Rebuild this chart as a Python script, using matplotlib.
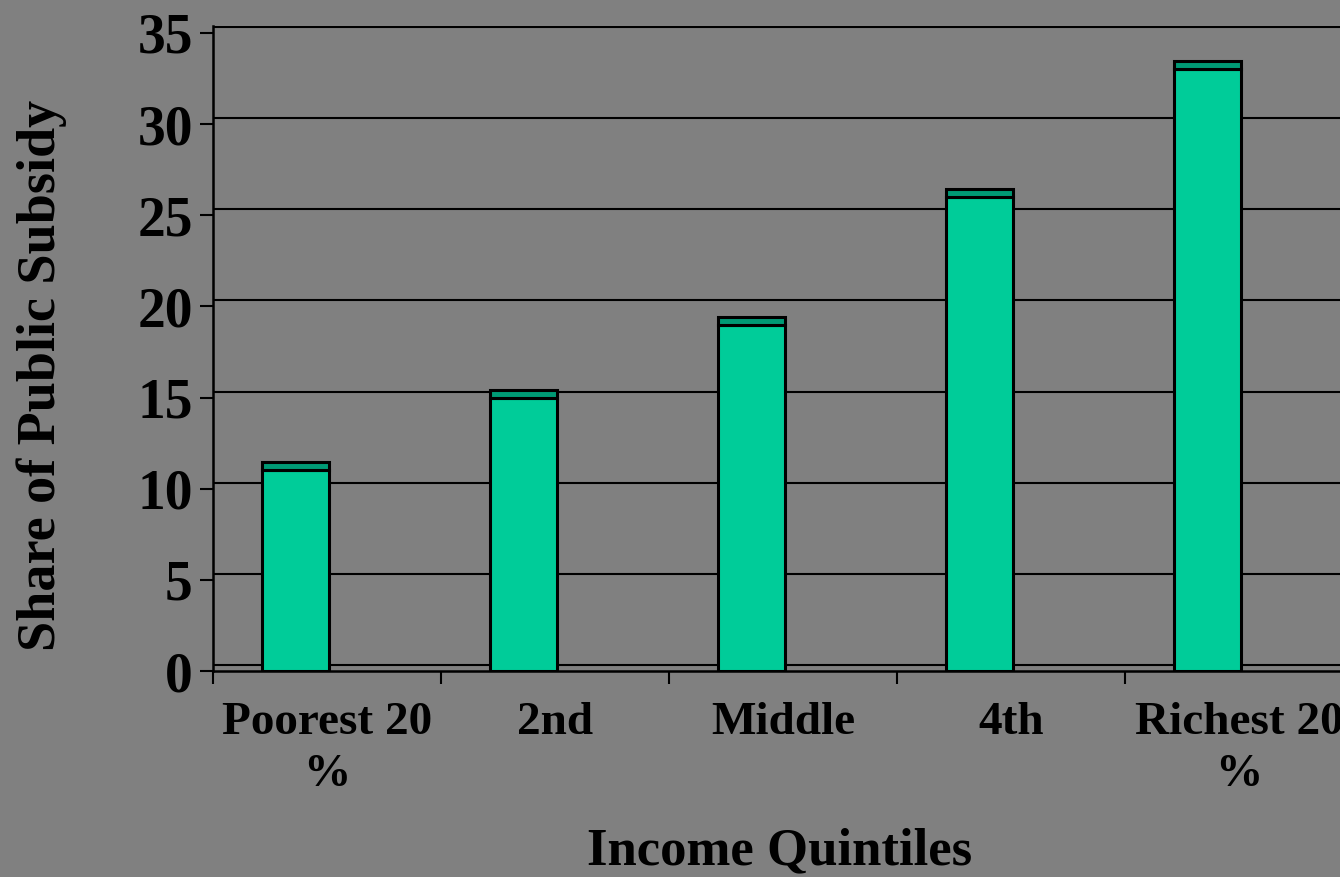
import matplotlib
matplotlib.use("Agg")
import matplotlib.pyplot as plt
from matplotlib.patches import Rectangle

categories = ["Poorest 20\n%", "2nd", "Middle", "4th", "Richest 20\n%"]
values = [11, 15, 19, 26, 33]
yticks = [0, 5, 10, 15, 20, 25, 30, 35]

BG = "#808080"
FRONT = "#00CC99"
CAP = "#009A75"
FONT = "Liberation Serif"

fig = plt.figure(figsize=(13.4, 8.77), dpi=100, facecolor=BG)
ax = fig.add_axes([213/1340, 206/877, (1353-213)/1340, (671-25.7)/877], facecolor=BG)

ax.set_xlim(0, 5)
ax.set_ylim(0, 35.4)

wall_off = 0.33
for v in yticks:
    ax.axhline(v + wall_off, color="black", lw=1.5, zorder=1)

bw = 0.29
boff = 0.362
cap_h = 0.44
for i, v in enumerate(values):
    ax.bar(i + boff, v, width=bw, color=FRONT, edgecolor="black", linewidth=2.2, zorder=3)
    ax.add_patch(Rectangle((i + boff - bw/2, v), bw, cap_h, facecolor=CAP,
                           edgecolor="black", linewidth=2.2, zorder=3))

for s in ["top", "right"]:
    ax.spines[s].set_visible(False)
ax.spines["left"].set_linewidth(1.8)
ax.spines["bottom"].set_linewidth(1.8)

ax.set_yticks(yticks)
ax.set_yticklabels([str(t) for t in yticks], fontfamily=FONT, fontweight="bold", fontsize=40)
ax.tick_params(axis="y", length=9.5, width=1.5, pad=5)

ax.set_xticks(range(6))
ax.set_xticklabels([])
ax.tick_params(axis="x", which="major", length=9, width=1.5)
ax.set_xticks([i + 0.5 for i in range(5)], minor=True)
ax.set_xticklabels(categories, minor=True, fontfamily=FONT, fontweight="bold", fontsize=34,
                   linespacing=1.32)
ax.tick_params(axis="x", which="minor", length=0, pad=22)

fig.text(780/1340, 1 - 851/877, "Income Quintiles", ha="center", va="center",
         fontfamily=FONT, fontweight="bold", fontsize=38)
fig.text(42/1340, 1 - 375/877, "Share of Public Subsidy", ha="center", va="center",
         rotation=90, fontfamily=FONT, fontweight="bold", fontsize=39)

fig.savefig("out.png", dpi=100, facecolor=BG)
